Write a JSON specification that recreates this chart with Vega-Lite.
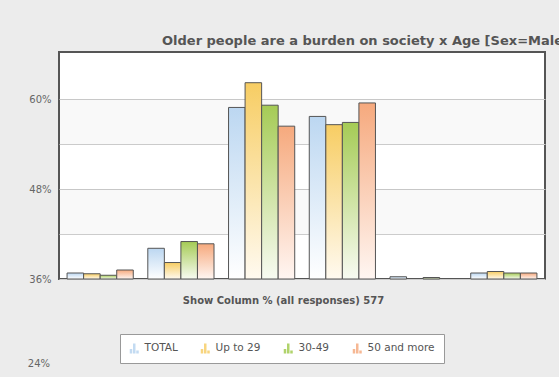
{
  "$schema": "https://vega.github.io/schema/vega-lite/v6.json",
  "width": 486,
  "height": 227,
  "autosize": {"type": "none"},
  "padding": {"left": 59, "top": 52, "right": 14, "bottom": 98},
  "background": "#ececec",
  "title": {
    "text": "Older people are a burden on society x Age [Sex=Male]",
    "anchor": "start",
    "frame": "group",
    "dx": 103,
    "offset": 4,
    "font": "DejaVu Sans",
    "fontSize": 13,
    "fontWeight": "bold",
    "color": "#555555"
  },
  "config": {
    "font": "DejaVu Sans",
    "view": {"fill": "#ffffff", "stroke": "#555555", "strokeWidth": 2}
  },
  "datasets": {
    "bars": [
      {"group": 1, "series": "TOTAL", "pct": 36.8},
      {"group": 1, "series": "Up to 29", "pct": 36.7},
      {"group": 1, "series": "30-49", "pct": 36.5},
      {"group": 1, "series": "50 and more", "pct": 37.2},
      {"group": 2, "series": "TOTAL", "pct": 40.1},
      {"group": 2, "series": "Up to 29", "pct": 38.2},
      {"group": 2, "series": "30-49", "pct": 41.0},
      {"group": 2, "series": "50 and more", "pct": 40.7},
      {"group": 3, "series": "TOTAL", "pct": 58.9},
      {"group": 3, "series": "Up to 29", "pct": 62.2},
      {"group": 3, "series": "30-49", "pct": 59.2},
      {"group": 3, "series": "50 and more", "pct": 56.4},
      {"group": 4, "series": "TOTAL", "pct": 57.7},
      {"group": 4, "series": "Up to 29", "pct": 56.6},
      {"group": 4, "series": "30-49", "pct": 56.9},
      {"group": 4, "series": "50 and more", "pct": 59.5},
      {"group": 5, "series": "TOTAL", "pct": 36.3},
      {"group": 5, "series": "30-49", "pct": 36.2},
      {"group": 6, "series": "TOTAL", "pct": 36.8},
      {"group": 6, "series": "Up to 29", "pct": 37.0},
      {"group": 6, "series": "30-49", "pct": 36.8},
      {"group": 6, "series": "50 and more", "pct": 36.8}
    ]
  },
  "encoding": {
    "y": {
      "field": "pct",
      "type": "quantitative",
      "scale": {"domain": [36, 66.3], "zero": false, "nice": false},
      "axis": {
        "values": [36, 42, 48, 54, 60],
        "labelExpr": "datum.value % 12 == 0 ? datum.value + '%' : ''",
        "title": null,
        "domain": false,
        "ticks": false,
        "gridColor": "#cccccc",
        "labelColor": "#666666",
        "labelFontSize": 10,
        "labelPadding": 8
      }
    }
  },
  "layer": [
    {
      "data": {"values": [{"pct": 54, "pct2": 60}, {"pct": 42, "pct2": 48}]},
      "mark": {"type": "rect", "fill": "#000000", "opacity": 0.025},
      "encoding": {"y2": {"field": "pct2"}}
    },
    {
      "data": {"name": "bars"},
      "encoding": {
        "x": {
          "field": "group",
          "type": "ordinal",
          "scale": {"domain": [1, 2, 3, 4, 5, 6], "paddingInner": 0.18, "paddingOuter": 0.1},
          "axis": {
            "labels": false,
            "ticks": false,
            "domain": false,
            "title": "Show Column % (all responses) 577",
            "titleFontSize": 10,
            "titleFontWeight": "bold",
            "titleColor": "#555555",
            "titlePadding": 16,
            "titleX": 224,
            "titleAlign": "center"
          }
        },
        "xOffset": {
          "field": "series",
          "type": "nominal",
          "scale": {"domain": ["TOTAL", "Up to 29", "30-49", "50 and more"], "paddingInner": 0, "paddingOuter": 0}
        },
        "y2": {"datum": 36}
      },
      "layer": [
        {
          "mark": {"type": "bar", "opacity": 0},
          "encoding": {
            "color": {
              "field": "series",
              "type": "nominal",
              "scale": {
                "domain": ["TOTAL", "Up to 29", "30-49", "50 and more"],
                "range": ["#c3dbf2", "#f8d57f", "#b0d36b", "#f6b894"]
              },
              "legend": {
                "title": null,
                "orient": "none",
                "legendX": 61,
                "legendY": 282,
                "direction": "horizontal",
                "fillColor": "#ffffff",
                "strokeColor": "#999999",
                "padding": 9,
                "columnPadding": 22,
                "labelFontSize": 10.5,
                "labelColor": "#555555",
                "labelOffset": 5,
                "symbolSize": 100,
                "symbolOpacity": 1,
                "symbolStrokeWidth": 0,
                "symbolType": "M-0.9,1V0.1H-0.4V1Z M-0.25,1V-1H0.25V1Z M0.4,1V0.4H0.9V1Z"
              }
            }
          }
        },
        {
          "transform": [{"filter": "datum.series === 'TOTAL'"}],
          "mark": {"type": "bar", "stroke": "#555555", "strokeWidth": 1,
            "fill": {"gradient": "linear", "x1": 0, "y1": 0, "x2": 0, "y2": 1, "stops": [{"offset": 0, "color": "#bcd7f1"}, {"offset": 1, "color": "#ffffff"}]}}
        },
        {
          "transform": [{"filter": "datum.series === 'Up to 29'"}],
          "mark": {"type": "bar", "stroke": "#555555", "strokeWidth": 1,
            "fill": {"gradient": "linear", "x1": 0, "y1": 0, "x2": 0, "y2": 1, "stops": [{"offset": 0, "color": "#f7cd63"}, {"offset": 1, "color": "#fffaf0"}]}}
        },
        {
          "transform": [{"filter": "datum.series === '30-49'"}],
          "mark": {"type": "bar", "stroke": "#555555", "strokeWidth": 1,
            "fill": {"gradient": "linear", "x1": 0, "y1": 0, "x2": 0, "y2": 1, "stops": [{"offset": 0, "color": "#a5cb55"}, {"offset": 1, "color": "#f8fbf2"}]}}
        },
        {
          "transform": [{"filter": "datum.series === '50 and more'"}],
          "mark": {"type": "bar", "stroke": "#555555", "strokeWidth": 1,
            "fill": {"gradient": "linear", "x1": 0, "y1": 0, "x2": 0, "y2": 1, "stops": [{"offset": 0, "color": "#f6a97d"}, {"offset": 1, "color": "#fff6f2"}]}}
        }
      ]
    },
    {
      "data": {"values": [{"pct": 24, "label": "24%"}]},
      "mark": {"type": "text", "align": "right", "baseline": "bottom", "fontSize": 10, "color": "#666666"},
      "encoding": {"x": {"value": -9}, "text": {"field": "label"}}
    }
  ]
}
